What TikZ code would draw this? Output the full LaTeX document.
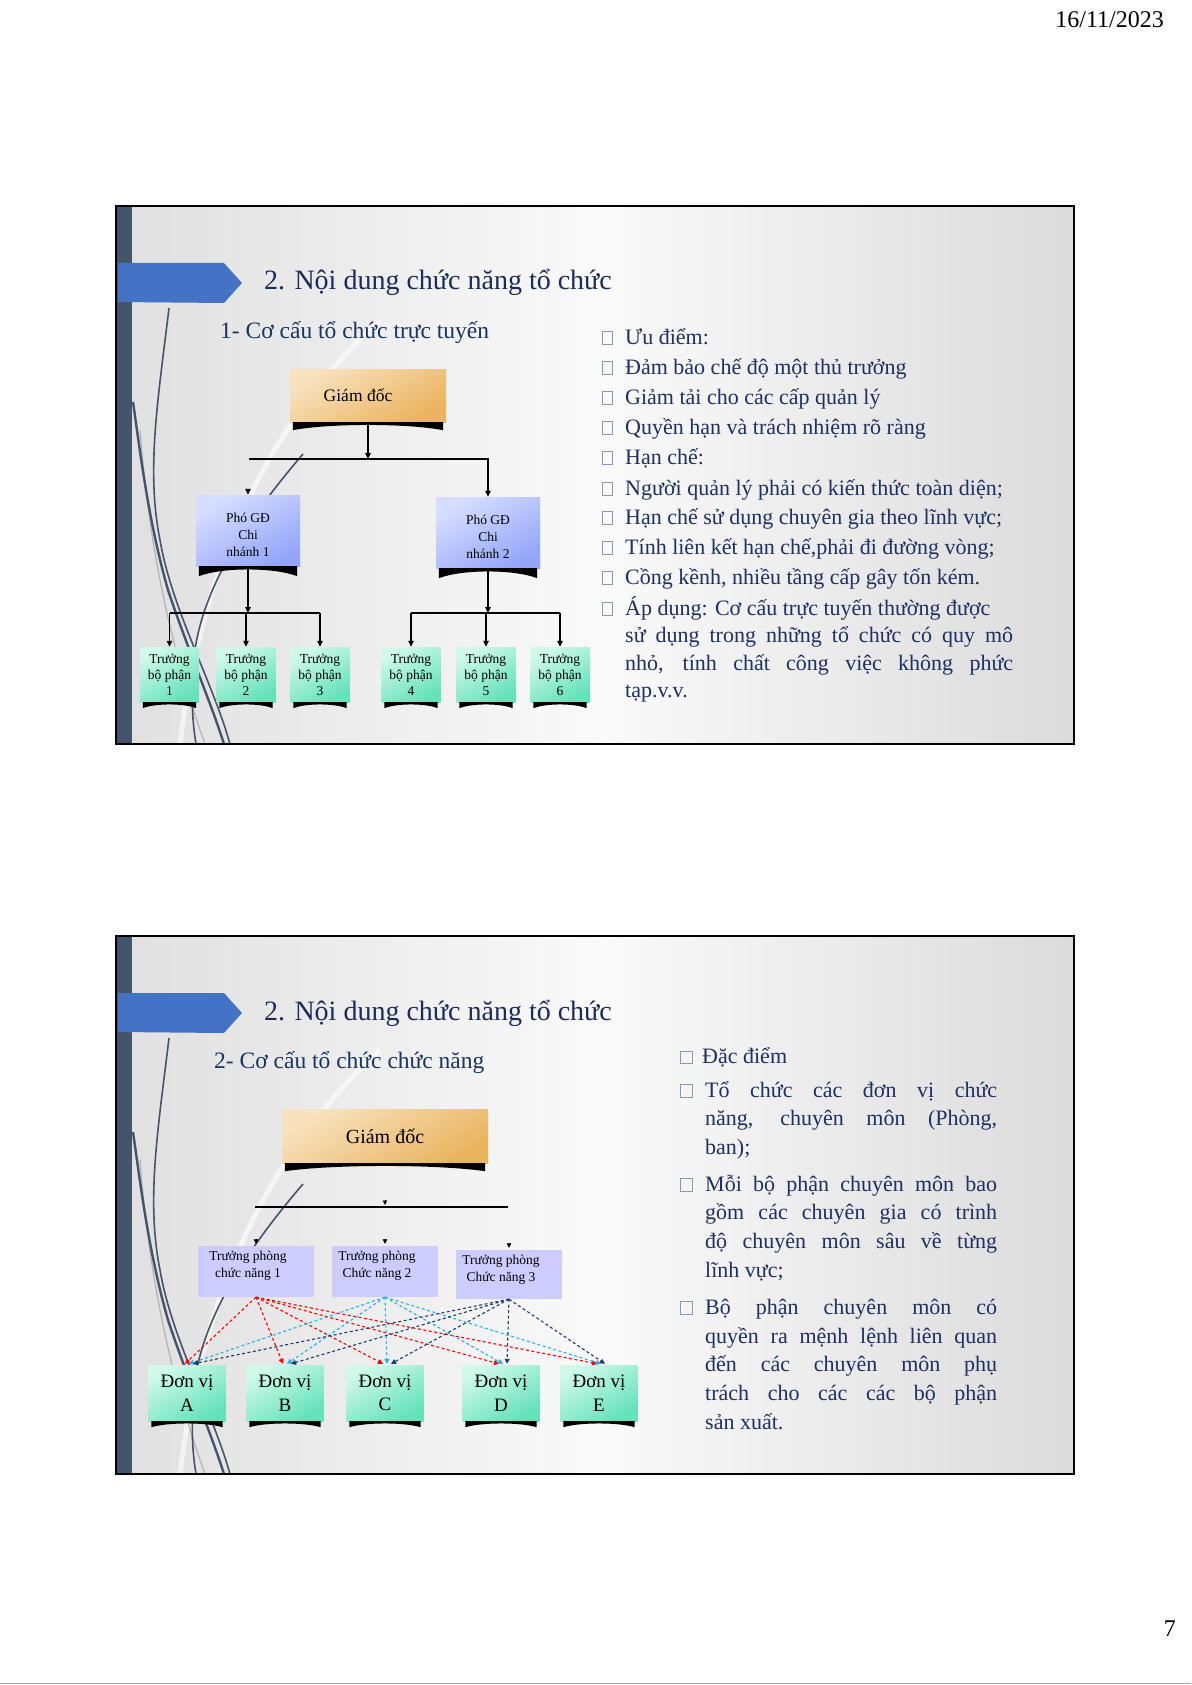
\documentclass[tikz,border=0pt]{standalone}
\usepackage{fontspec}
\setmainfont{Liberation Serif}
\usetikzlibrary{arrows.meta,calc}

\hyphenpenalty=10000
\tolerance=10000

\definecolor{slidebar}{RGB}{68,84,106}
\definecolor{bannerblue}{RGB}{68,114,196}
\definecolor{titlenavy}{RGB}{28,43,89}
\definecolor{subnavy}{RGB}{24,52,96}
\definecolor{textnavy}{RGB}{30,48,98}
\definecolor{bulletgray}{RGB}{138,152,178}
\definecolor{gdlight}{RGB}{248,226,190}
\definecolor{gddark}{RGB}{234,180,96}
\definecolor{pgdlight}{RGB}{214,222,255}
\definecolor{pgddark}{RGB}{148,166,250}
\definecolor{mintlight}{RGB}{208,249,234}
\definecolor{mintdark}{RGB}{100,226,186}
\definecolor{tpfill}{RGB}{204,204,255}
\definecolor{arrred}{RGB}{255,0,0}
\definecolor{arrblue}{RGB}{40,176,232}
\definecolor{arrnavy}{RGB}{28,58,106}

% black foot under a box: node, depth
\newcommand{\boxfoot}[2]{%
  \fill ([xshift=3pt]#1.south west) -- ([xshift=-3pt]#1.south east)
    -- ([xshift=-3pt,yshift=-#2pt]#1.south east)
    .. controls ($(#1.south west)!0.75!(#1.south east)+(0pt,-1pt)$)
       and ($(#1.south west)!0.25!(#1.south east)+(0pt,-1pt)$) ..
    ([xshift=3pt,yshift=-#2pt]#1.south west) -- cycle;}

\tikzset{
  giamdoc/.style={inner sep=0pt, top color=gdlight, bottom color=gddark, shading angle=30},
  phogd/.style={inner sep=0pt, minimum width=104pt, minimum height=71pt,
    top color=pgdlight, bottom color=pgddark, shading angle=30,
    align=center, font=\fontsize{13.5}{17}\selectfont},
  truongbp/.style={inner sep=0pt, minimum width=59pt, minimum height=55pt,
    top color=mintlight, bottom color=mintdark, shading angle=30,
    align=center, font=\fontsize{13.5}{16}\selectfont},
  truongph/.style={inner sep=0pt, fill=tpfill, font=\fontsize{13.5}{17}\selectfont},
  donvi/.style={inner sep=0pt, minimum width=77pt, minimum height=56pt,
    top color=mintlight, bottom color=mintdark, shading angle=30,
    align=center, font=\fontsize{19}{23.5}\selectfont},
  listtext/.style={inner sep=0pt, anchor=base west, text=textnavy,
    font=\fontsize{22}{30}\selectfont},
  bullet/.style={draw=bulletgray, line width=0.8pt},
  conn/.style={line width=1.4pt},
  arr/.style={conn, -{Triangle[length=6pt,width=5.5pt]}},
  tip/.style={line width=0.8pt, -{Triangle[length=4.5pt,width=4.5pt]}},
  dasharr/.style={line width=1.1pt, dash pattern=on 3pt off 2.5pt,
    -{Triangle[length=5pt,width=5pt]}},
  swoosh/.style={slidebar},
}

\begin{document}
\begin{tikzpicture}[x=1pt,y=-1pt]
\useasboundingbox (0,0) rectangle (1191,1685);
\fill[white] (0,0) rectangle (1191,1685);

% date, page number
\node[anchor=base east, inner sep=0pt, font=\fontsize{24}{28}\selectfont] (ngay) at (1164,28) {16/11/2023};
\node[anchor=base east, inner sep=0pt, font=\fontsize{24}{28}\selectfont] (trang) at (1176,1636) {7};
\draw[black!35, line width=0.8pt] (0,1683.5) -- (1191,1683.5);

% the two slides
\foreach \s/\dy in {1/0,2/730}{
\begin{scope}[yshift=-\dy pt]
  \shade[left color=black!12, right color=black!14, middle color=black!2] (132,207) rectangle (1073,743);
  \fill[slidebar] (117,207) rectangle (132,743);
  % background lines
  \draw[white, line width=5pt, opacity=.6] (180,744) .. controls (200,580) and (260,430) .. (380,320);
  \draw[black!30, line width=1.2pt] (140,430) .. controls (150,560) and (175,660) .. (205,744);
  \draw[swoosh, line width=1.6pt] (169,308) .. controls (158,400) and (146,470) .. (160,540) .. controls (172,610) and (212,680) .. (230,744);
  \draw[swoosh, line width=2.4pt] (133,402) .. controls (140,450) and (148,520) .. (168,590) .. controls (188,650) and (210,700) .. (224,744);
  \draw[swoosh, line width=1.6pt] (303,454) .. controls (255,510) and (205,580) .. (195,650) .. controls (190,700) and (193,725) .. (196,744);
  \fill[bannerblue] (118,263) -- (224,263) -- (242,283) -- (224,303) -- (118,302) -- cycle;
  \node[anchor=base west, inner sep=0pt, text=titlenavy, font=\fontsize{28}{32}\selectfont] (title\s) at (264,290) {2. Nội dung chức năng tổ chức};
  \draw[line width=2pt] (116,206) rectangle (1074,744);
\end{scope}
}

% slide 1: truc tuyen
\node[anchor=base west, inner sep=0pt, text=subnavy, font=\fontsize{23.5}{28}\selectfont] (sub1) at (220,338) {1- Cơ cấu tổ chức trực tuyến};

\node[giamdoc, minimum width=156pt, minimum height=53pt, font=\fontsize{17.5}{20}\selectfont] (gd1) at (368,395.5) {Giám đốc\hspace*{20pt}};
\node[phogd] (pgd1) at (248,530.5) {\rule{0pt}{18pt}Phó GĐ\\Chi\\nhánh 1};
\node[phogd] (pgd2) at (488,532.5) {\rule{0pt}{18pt}Phó GĐ\\Chi\\nhánh 2};
\foreach \i/\xx in {1/169.5,2/246,3/320,4/411,5/486,6/560}
  \node[truongbp] (tbp\i) at (\xx,674.5) {Trưởng\\bộ phận\\\i};

\boxfoot{gd1}{8}
\boxfoot{pgd1}{10}
\boxfoot{pgd2}{10}
\foreach \i in {1,...,6} {\boxfoot{tbp\i}{6}}

\coordinate (bus1l) at (249,459);
\coordinate (bus1r) at (488,459);
\coordinate (bus2) at (248,613);
\coordinate (bus3) at (488,613);
\draw[arr] (gd1.south) -- (gd1.south |- bus1l);
\draw[arr] (bus1l) -- (bus1r) -- (bus1r |- pgd2.north);
\draw[arr] ([yshift=6pt]pgd1.north) -- (pgd1.north);
\draw[arr] (pgd1.south) -- (bus2);
\draw[arr] (pgd2.south) -- (bus3);
\draw[conn] (tbp1.north |- bus2) -- (tbp3.north |- bus2);
\draw[conn] (tbp4.north |- bus3) -- (tbp6.north |- bus3);
\foreach \i in {1,2,3} \draw[arr] (tbp\i.north |- bus2) -- (tbp\i.north);
\foreach \i in {4,5,6} \draw[arr] (tbp\i.north |- bus3) -- (tbp\i.north);

\foreach \i/\yy/\txt in {1/344/{Ưu điểm:},
    2/374/{Đảm bảo chế độ một thủ trưởng},
    3/404/{Giảm tải cho các cấp quản lý},
    4/434/{Quyền hạn và trách nhiệm rõ ràng},
    5/464/{Hạn chế:},
    6/495/{Người quản lý phải có kiến thức toàn diện;},
    7/524/{Hạn chế sử dụng chuyên gia theo lĩnh vực;},
    8/554/{Tính liên kết hạn chế,phải đi đường vòng;},
    9/584/{Cồng kềnh, nhiều tầng cấp gây tốn kém.}}{
  \draw[bullet] (602,\yy-12.5) rectangle (612.5,\yy);
  \node[listtext] (uu\i) at (625,\yy) {\txt};
}
\draw[bullet] (602,602.5) rectangle (612.5,615);
\node[listtext, text width=388pt, align=justify, font=\fontsize{22}{27.5}\selectfont] (apdung) at (625,615)
  {Áp dụng: Cơ cấu trực tuyến thường được\newline sử dụng trong những tổ chức có quy mô\linebreak nhỏ, tính chất công việc không phức\linebreak tạp.v.v.};

% slide 2: chuc nang
\node[anchor=base west, inner sep=0pt, text=subnavy, font=\fontsize{23.5}{28}\selectfont] (sub2) at (214,1068) {2- Cơ cấu tổ chức chức năng};

\node[giamdoc, minimum width=206pt, minimum height=54pt, font=\fontsize{20}{24}\selectfont] (gd2) at (385,1136) {Giám đốc};
\boxfoot{gd2}{8}

\node[truongph, minimum width=116pt, minimum height=51pt] (tp1) at (256,1271.5)
  {\parbox[c][51pt][t]{100pt}{\vspace*{5pt}\centering Trưởng phòng\\chức năng 1}\hspace*{16pt}};
\node[truongph, minimum width=106pt, minimum height=51pt] (tp2) at (385,1271.5)
  {\parbox[c][51pt][t]{90pt}{\vspace*{5pt}\centering Trưởng phòng\\Chức năng 2}\hspace*{16pt}};
\node[truongph, minimum width=106pt, minimum height=49pt] (tp3) at (509,1274.5)
  {\parbox[c][49pt][t]{90pt}{\vspace*{5pt}\centering Trưởng phòng\\Chức năng 3}\hspace*{16pt}};

\coordinate (bus4l) at (255,1207);
\coordinate (bus4r) at (508,1207);
\coordinate (bus4c) at (385,1205);
\draw[line width=1.6pt] (bus4l) -- (bus4r);
\draw[tip] ([yshift=5pt]bus4c) -- (bus4c);
\foreach \t in {tp1,tp2,tp3} \draw[tip] ([yshift=7pt]\t.north) -- ([yshift=2pt]\t.north);

\foreach \nm/\xx in {A/187,B/285,C/385,D/501,E/599}{
  \node[donvi] (dv\nm) at (\xx,1393) {Đơn vị\\\nm};
  \boxfoot{dv\nm}{6}
}

\foreach \t/\c/\o in {tp1/arrred/-2,tp2/arrblue/2,tp3/arrnavy/6}
  \foreach \nm in {A,B,C,D,E}
    \draw[dasharr, \c] (\t.south) -- ([xshift=\o pt, yshift=1pt]dv\nm.north);

\draw[bullet] (680,1051) rectangle (692,1063.7);
\node[listtext] (dacdiem) at (702,1063.7) {Đặc điểm};
\foreach \nm/\yy/\txt in {dd1/1097/{Tổ chức các đơn vị chức\linebreak năng, chuyên môn (Phòng,\linebreak ban);},
    dd2/1191/{Mỗi bộ phận chuyên môn bao\linebreak gồm các chuyên gia có trình\linebreak độ chuyên môn sâu về từng\linebreak lĩnh vực;},
    dd3/1314.5/{Bộ phận chuyên môn có\linebreak quyền ra mệnh lệnh liên quan\linebreak đến các chuyên môn phụ\linebreak trách cho các các bộ phận\linebreak sản xuất.}}{
  \draw[bullet] (680,\yy-12.7) rectangle (692,\yy);
  \node[listtext, text width=292pt, align=justify, font=\fontsize{22}{28.7}\selectfont] (\nm) at (705,\yy) {\txt};
}
\end{tikzpicture}
\end{document}
